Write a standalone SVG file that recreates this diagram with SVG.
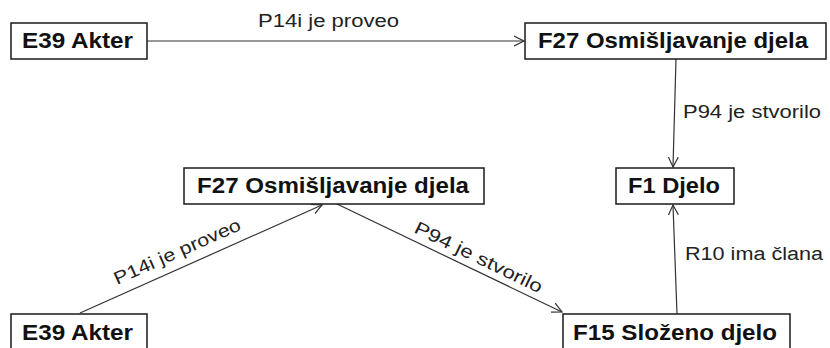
<svg xmlns="http://www.w3.org/2000/svg" width="830" height="348" viewBox="0 0 830 348">
<style>
.box{fill:#fff;stroke:#1a1a1a;stroke-width:1.5}
.lbl{font-family:"Liberation Sans",Arial,sans-serif;font-weight:bold;font-size:22px;fill:#111}
.rel{font-family:"Liberation Sans",Arial,sans-serif;font-size:18px;fill:#222}
.edge{stroke:#333;stroke-width:1.2;fill:none;marker-end:url(#arr)}
</style>
<defs>
<marker id="arr" markerUnits="userSpaceOnUse" markerWidth="12" markerHeight="12" refX="10" refY="5" orient="auto" viewBox="0 0 12 10">
<path d="M0,0 L10,5 L0,10" fill="none" stroke="#333" stroke-width="1.2"/>
</marker>
</defs>
<rect width="830" height="348" fill="#fff"/>
<g id="connectors">
<line class="edge" x1="147" y1="41" x2="524" y2="41"/>
<line class="edge" x1="676" y1="59" x2="673" y2="167"/>
<line class="edge" x1="80" y1="313" x2="322" y2="205"/>
<line class="edge" x1="337" y1="204" x2="562" y2="312"/>
<line class="edge" x1="677" y1="314" x2="673" y2="205"/>
<text class="rel" x="258" y="27" textLength="141" lengthAdjust="spacingAndGlyphs">P14i je proveo</text>
<text class="rel" x="683" y="118" textLength="138" lengthAdjust="spacingAndGlyphs">P94 je stvorilo</text>
<text class="rel" x="685" y="260" textLength="138" lengthAdjust="spacingAndGlyphs">R10 ima člana</text>
<text class="rel" transform="translate(117,285) rotate(-24)" textLength="137" lengthAdjust="spacingAndGlyphs">P14i je proveo</text>
<text class="rel" transform="translate(413,232) rotate(26)" textLength="140" lengthAdjust="spacingAndGlyphs">P94 je stvorilo</text>
</g>
<g id="e39-top">
<rect class="box" x="11" y="23" width="136" height="36"/>
<text class="lbl" x="22" y="48" textLength="111" lengthAdjust="spacingAndGlyphs">E39 Akter</text>
</g>
<g id="f27-top">
<rect class="box" x="525" y="23" width="301" height="36"/>
<text class="lbl" x="538" y="48" textLength="270" lengthAdjust="spacingAndGlyphs">F27 Osmišljavanje djela</text>
</g>
<g id="f1">
<rect class="box" x="616" y="168" width="118" height="36"/>
<text class="lbl" x="628" y="193" textLength="92" lengthAdjust="spacingAndGlyphs">F1 Djelo</text>
</g>
<g id="f27-bottom">
<rect class="box" x="184" y="168" width="300" height="36"/>
<text class="lbl" x="197" y="193" textLength="272" lengthAdjust="spacingAndGlyphs">F27 Osmišljavanje djela</text>
</g>
<g id="e39-bottom">
<rect class="box" x="11" y="314" width="136" height="40"/>
<text class="lbl" x="22" y="340" textLength="111" lengthAdjust="spacingAndGlyphs">E39 Akter</text>
</g>
<g id="f15">
<rect class="box" x="563" y="314" width="227" height="40"/>
<text class="lbl" x="573" y="340" textLength="204" lengthAdjust="spacingAndGlyphs">F15 Složeno djelo</text>
</g>
</svg>
